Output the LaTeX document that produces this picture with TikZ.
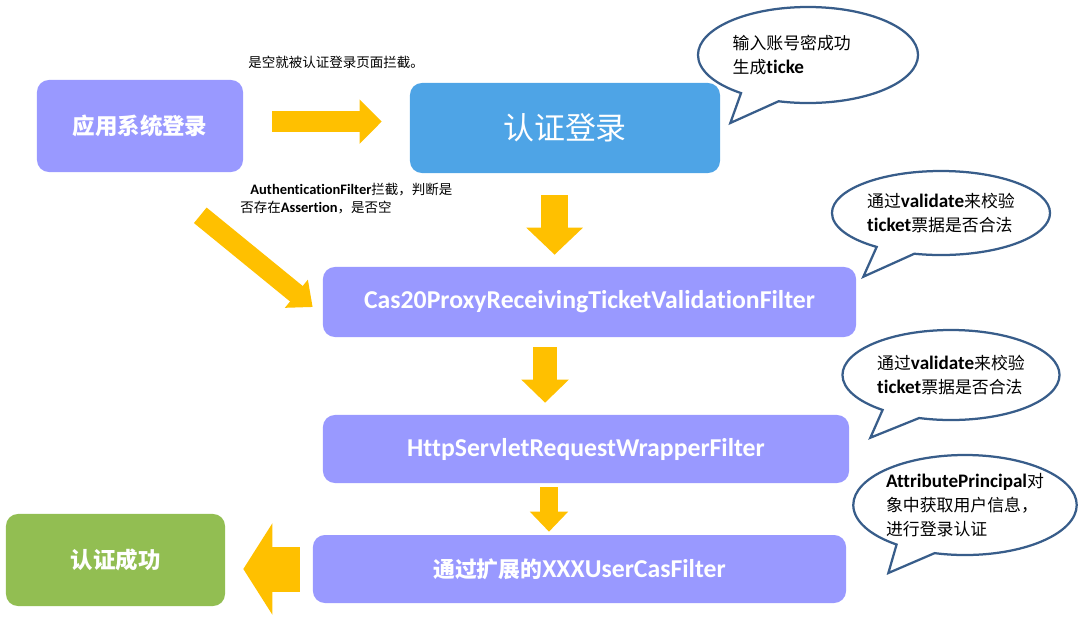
\documentclass[tikz,border=0pt]{standalone}
\usepackage{fontspec}
\setmainfont{Carlito}[Ligatures=NoCommon]
\newfontfamily\cjk{Noto Sans CJK SC}
\usepackage{tikz}
\usetikzlibrary{shapes,arrows.meta,positioning}
\usetikzlibrary{shapes.callouts}

\definecolor{boxblue}{RGB}{153,153,255}
\definecolor{authblue}{RGB}{78,164,230}
\definecolor{okgreen}{RGB}{146,190,82}
\definecolor{arrowyellow}{RGB}{255,192,0}
\definecolor{bubbleline}{RGB}{56,93,138}

% Chinese text, at the size that the style asks for
\newcommand\zhsize{}
\newcommand\zh[1]{{\cjk\zhsize #1}}

\tikzset{
  filterbox/.style={rectangle, rounded corners=0.3cm, fill=boxblue, text=white,
    font=\bfseries\fontsize{18.3}{21}\selectfont\def\zhsize{\fontsize{15.5}{21}\selectfont}, inner sep=0pt},
  fatarrow/.style={draw=arrowyellow, line width=#1},
  bubble/.style={ellipse callout, draw=bubbleline, line width=1.6pt, fill=white,
    align=left, font=\fontsize{13.6}{16.8}\selectfont\def\zhsize{\fontsize{12}{16.8}\selectfont},
    inner sep=0pt, callout pointer arc=22},
  note/.style={align=left, font=\fontsize{10.3}{12.8}\selectfont\def\zhsize{\fontsize{9.6}{12.8}\selectfont}, inner sep=0pt}
}

\begin{document}
\begin{tikzpicture}[x=0.025cm, y=-0.025cm]
				\useasboundingbox (0,0) rectangle (1080,620);
				% boxes
				\node [filterbox, minimum width=5.15cm, minimum height=2.3cm]	(app)	at (140,126)	{\zh{\fontsize{16}{21}\selectfont 应用系统登录}};
				\node [filterbox, fill=authblue, font=\fontsize{22}{26}\selectfont, minimum width=7.75cm, minimum height=2.25cm]	(auth)	at (565,128)	{\zh{认证登录}};
				\node [filterbox, minimum width=13.325cm, minimum height=1.75cm]	(cas)	at (589.5,302)	{Cas20ProxyReceivingTicketValidationFilter};
				\node [filterbox, minimum width=13.15cm, minimum height=1.7cm]	(http)	at (586,449)	{HttpServletRequestWrapperFilter};
				\node [filterbox, minimum width=13.325cm, minimum height=1.7cm]	(xxx)	at (579.5,569)	{\zh{通过扩展的}XXXUserCasFilter};
				\node [filterbox, fill=okgreen, minimum width=5.475cm, minimum height=2.3cm]	(ok)	at (115.5,560)	{\zh{\fontsize{16}{21}\selectfont 认证成功}};
				% notes
				\node [note, anchor=west]	(emptynote)	at (248,62)	{\zh{是空就被认证登录页面拦截。}};
				\node [note, anchor=north west]	(filternote)	at (240,183)	{\hspace{0.7em}\textbf{AuthenticationFilter}\zh{拦截，判断是}\\\zh{否存在}\textbf{Assertion}\zh{，是否空}};
				% arrows
				\draw [fatarrow=0.525cm, -{Triangle[length=0.55cm, width=1.075cm]}, shorten <=0.725cm, shorten >=0.7cm]
					([yshift=0.11cm]app.east) -- ([yshift=0.11cm]app.east -| auth.west);
				\draw [fatarrow=0.675cm, -{Triangle[length=0.675cm, width=1.375cm]}, shorten <=0.55cm, shorten >=0.3cm]
					([xshift=-0.26cm]auth.south) -- ([xshift=-0.26cm]auth.south |- cas.north);
				\draw [fatarrow=0.5cm, -{Triangle[length=0.525cm, width=0.875cm]}]
					([xshift=-1.075cm, yshift=-1.075cm]app.south east) -- ([xshift=-0.25cm, yshift=-0.125cm]cas.west);
				\draw [fatarrow=0.6cm, -{Triangle[length=0.575cm, width=1.15cm]}, shorten <=0.25cm, shorten >=0.3cm]
					([xshift=-1.11cm]cas.south) -- ([xshift=-1.11cm]cas.south |- http.north);
				\draw [fatarrow=0.45cm, -{Triangle[length=0.5cm, width=0.925cm]}, shorten <=0.1cm, shorten >=0.075cm]
					([xshift=-0.925cm]http.south) -- ([xshift=-0.925cm]http.south |- xxx.north);
				\draw [fatarrow=1.125cm, -{Triangle[length=0.725cm, width=2.25cm]}, shorten <=0.325cm, shorten >=0.45cm]
					(xxx.west) -- (xxx.west -| ok.east);
				% bubbles
				\node [bubble, minimum width=5.5cm, minimum height=2.4cm, callout absolute pointer={([xshift=0.25cm, yshift=0.125cm]auth.east)}]	(b1)	at (808,55)
					{\zh{输入账号密成功}\hspace*{1.7em}\\\zh{生成}\textbf{ticke}};
				\node [bubble, minimum width=5.45cm, minimum height=2.1cm, callout absolute pointer={([xshift=0.175cm, yshift=-0.25cm]cas.north east)}]	(b2)	at (941,213)
					{\zh{通过}\textbf{validate}\zh{来校验}\\\textbf{ticket}\zh{票据是否合法}};
				\node [bubble, minimum width=5.425cm, minimum height=2.25cm, callout absolute pointer={([xshift=0.525cm, yshift=-0.575cm]http.north east)}]	(b3)	at (951,375)
					{\zh{通过}\textbf{validate}\zh{来校验}\\\textbf{ticket}\zh{票据是否合法}};
				\node [bubble, minimum width=5.5cm, minimum height=2.5cm, callout absolute pointer={([xshift=1.05cm, yshift=-0.1cm]xxx.east)}]	(b4)	at (965,505)
					{\textbf{AttributePrincipal}\zh{对}\\\zh{象中获取用户信息，}\\\zh{进行登录认证}};
\end{tikzpicture}
\end{document}
